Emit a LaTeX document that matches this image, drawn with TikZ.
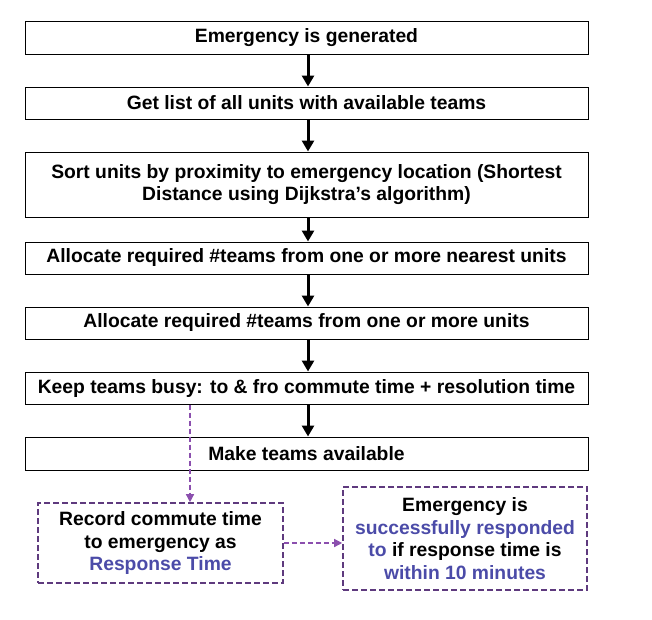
\documentclass[tikz,border=0pt]{standalone}
\usepackage{fontspec}
\setmainfont{Liberation Sans}
\usetikzlibrary{arrows.meta,calc}
\definecolor{pborder}{HTML}{5E3A7E}
\definecolor{parrow}{HTML}{8B4FAE}
\definecolor{bluetxt}{HTML}{4B4BA8}
\begin{document}
\begin{tikzpicture}[x=1pt,y=-1pt,
  flowbox/.style={draw=black,line width=1pt,minimum width=563pt,inner sep=0pt,
    font=\fontsize{19.3}{22.5}\selectfont\bfseries,align=center},
  dashbox/.style={draw=pborder,line width=1.6pt,dash pattern=on 6pt off 3pt,inner sep=0pt,
    font=\fontsize{19.3}{22.8}\selectfont\bfseries,align=center},
  flowarrow/.style={line width=3pt,-{Triangle[width=12pt,length=11pt]}},
  dasharrow/.style={draw=parrow,line width=1.3pt,dash pattern=on 5pt off 3pt,
    -{Triangle[width=8pt,length=8pt]},color=parrow}
]
\useasboundingbox (0,0) rectangle (652,619);
\node[flowbox,minimum height=33pt] (b1) at (306.5,37.5) {Emergency is generated};
\node[flowbox,minimum height=32pt] (b2) at (306.5,103) {Get list of all units with available teams};
\node[flowbox,minimum height=65pt] (b3) at (306.5,184.5) {Sort units by proximity to emergency location (Shortest\\Distance using Dijkstra’s algorithm)};
\node[flowbox,minimum height=32pt] (b4) at (306.5,258) {Allocate required \#teams from one or more nearest units};
\node[flowbox,minimum height=32pt] (b5) at (306.5,323) {Allocate required \#teams from one or more units};
\node[flowbox,minimum height=32pt] (b6) at (306.5,388) {Keep teams busy: to \& fro commute time + resolution time};
\node[flowbox,minimum height=33pt] (b7) at (306.5,453.5) {Make teams available};
\node[dashbox,minimum width=245pt,minimum height=80pt] (rec) at (160.5,543) {Record commute time\\to emergency as\\\textcolor{bluetxt}{Response Time}};
\node[dashbox,minimum width=244pt,minimum height=103pt] (emer) at (465,538.5) {Emergency is\\\textcolor{bluetxt}{successfully responded}\\\textcolor{bluetxt}{to} if response time is\\\textcolor{bluetxt}{within 10 minutes}};
\coordinate (ax) at (308,0);
\coordinate (dx) at (190,0);
\foreach \a/\b in {b1/b2,b2/b3,b3/b4,b4/b5,b5/b6,b6/b7}
  \draw[flowarrow] (\a.south -| ax) -- (\b.north -| ax);
\draw[dasharrow] (b6.south -| dx) -- (rec.north -| dx);
\draw[dasharrow] (rec.east) -- (rec.east -| emer.west);
\end{tikzpicture}
\end{document}
